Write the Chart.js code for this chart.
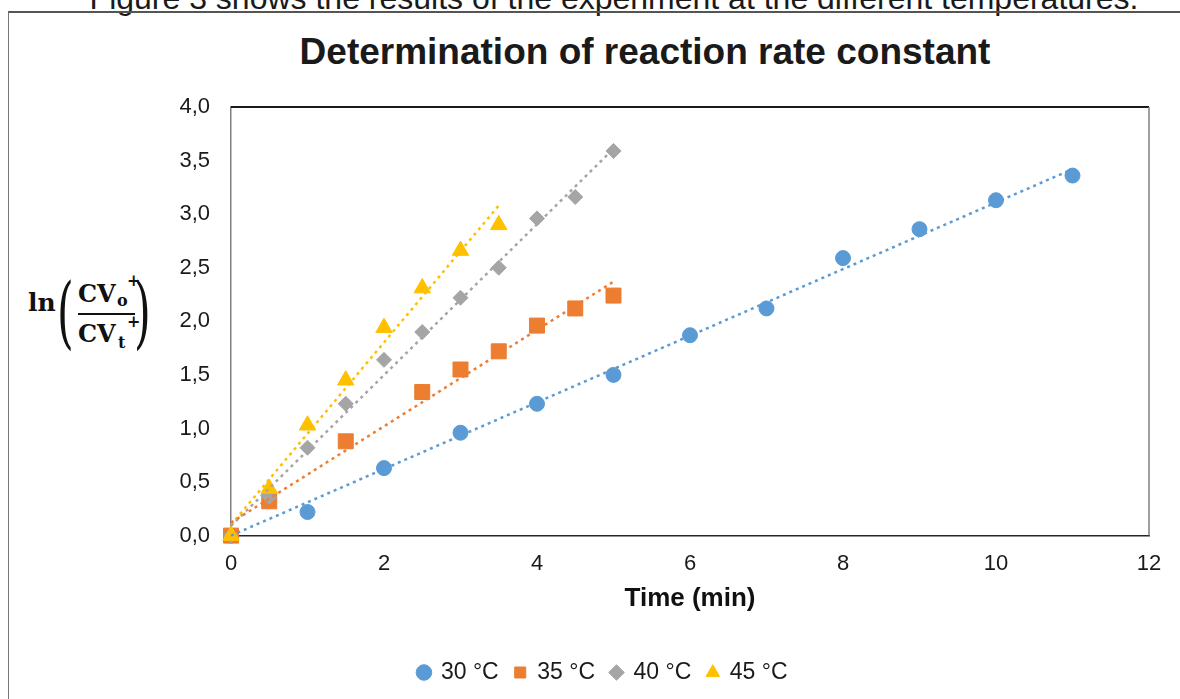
<!DOCTYPE html>
<html lang="en">
<head>
<meta charset="UTF-8">
<title>Determination of reaction rate constant</title>
<script src="https://cdn.jsdelivr.net/npm/chart.js"></script>
<style>
  html, body { margin: 0; padding: 0; background: #fff; width: 1180px; height: 699px; overflow: hidden; }
  body { position: relative; font-family: 'Liberation Sans', Arial, sans-serif; color: #1a1a1a; }
  #caption { position: absolute; left: 0; width: 1228px; top: -18px; text-align: center; font-size: 32px; line-height: 32px; white-space: nowrap; }
  #frame { position: absolute; left: 8px; top: 11px; width: 1300px; height: 800px; border-top: 2px solid #555; border-left: 1px solid #777; }
  #title { position: absolute; left: 0; width: 1290px; top: 33px; text-align: center; font-size: 37px; font-weight: bold; line-height: 37px; white-space: nowrap; }
  #chartBox { position: absolute; left: 8px; top: 0; width: 1190px; height: 699px; }
  .m { position: absolute; font-family: 'DejaVu Serif', serif; font-weight: bold; line-height: 1; white-space: nowrap; color: #111; }
  .paren { font-weight: normal; transform-origin: left top; }
  .bar { position: absolute; left: 78px; top: 313px; width: 57px; height: 2px; background: #111; }
</style>
</head>
<body>
  <div id="caption">Figure 3 shows the results of the experiment at the different temperatures.</div>
  <div id="frame"></div>
  <div id="title">Determination of reaction rate constant</div>

  <!-- y axis label: ln(CVo+ / CVt+) -->
  <div class="m" style="left:28px;top:290px;font-size:25px">ln</div>
  <div class="m paren" style="left:57px;top:273px;font-size:78px;transform:scaleX(0.55)">(</div>
  <div class="m" style="left:78px;top:282px;font-size:24px">CV</div>
  <div class="m" style="left:117px;top:293px;font-size:16px">o</div>
  <div class="m" style="left:127px;top:273px;font-size:16px">+</div>
  <div class="bar"></div>
  <div class="m" style="left:78px;top:322px;font-size:24px">CV</div>
  <div class="m" style="left:118px;top:335px;font-size:16px">t</div>
  <div class="m" style="left:127px;top:314px;font-size:16px">+</div>
  <div class="m paren" style="left:134px;top:273px;font-size:78px;transform:scaleX(0.55)">)</div>

  <div id="chartBox"><canvas id="rateChart" width="1190" height="699"></canvas></div>

<script>
// measured points, time in min
const time30 = [0, 1, 2, 3, 4, 5, 6, 7, 8, 9, 10, 11];
const ln30 = [0, 0.22, 0.63, 0.96, 1.23, 1.50, 1.87, 2.12, 2.59, 2.86, 3.13, 3.36];
const time35 = [0, 0.5, 1.5, 2.5, 3, 3.5, 4, 4.5, 5];
const ln35 = [0, 0.32, 0.88, 1.34, 1.55, 1.72, 1.96, 2.12, 2.24];
const time40 = [0, 0.5, 1, 1.5, 2, 2.5, 3, 3.5, 4, 4.5, 5];
const ln40 = [0, 0.36, 0.82, 1.23, 1.64, 1.90, 2.22, 2.50, 2.96, 3.16, 3.59];
const time45 = [0, 0.5, 1, 1.5, 2, 2.5, 3, 3.5];
const ln45 = [0, 0.44, 1.03, 1.45, 1.94, 2.31, 2.66, 2.90];

// end points of the linear trendlines
const trendTime30 = [0, 11];
const trendLn30 = [0.0, 3.42];
const trendTime35 = [0, 5];
const trendLn35 = [0.12, 2.37];
const trendTime40 = [0, 5];
const trendLn40 = [0.09, 3.61];
const trendTime45 = [0, 3.5];
const trendLn45 = [0.10, 3.08];

const seriesNames = ['30 °C', '35 °C', '40 °C', '45 °C'];
const seriesColors = ['#5B9BD5', '#ED7D31', '#A5A5A5', '#FFC000'];

function pts(xs, ys) {
    return xs.map((x, i) => ({ x: x, y: ys[i] }));
}

const markers = [
    { data: pts(time30, ln30), style: 'circle', r: 7.5 },
    { data: pts(time35, ln35), style: 'rect', r: 10.6 },
    { data: pts(time40, ln40), style: 'rectRot', r: 7.5 },
    { data: pts(time45, ln45), style: 'triangle', r: 9.5 }
];
const trends = [
    pts(trendTime30, trendLn30),
    pts(trendTime35, trendLn35),
    pts(trendTime40, trendLn40),
    pts(trendTime45, trendLn45)
];

const datasets = [];
markers.forEach((m, i) => {
    datasets.push({
        label: seriesNames[i],
        data: m.data,
        showLine: false,
        pointStyle: m.style,
        pointRadius: m.r,
        pointHoverRadius: m.r,
        backgroundColor: seriesColors[i],
        borderColor: seriesColors[i],
        pointBorderWidth: 1,
        clip: false,
        order: 4 - i + 1
    });
});
trends.forEach((t, i) => {
    datasets.push({
        label: 'trend ' + seriesNames[i],
        data: t,
        showLine: true,
        pointRadius: 0,
        borderColor: seriesColors[i],
        backgroundColor: seriesColors[i],
        borderWidth: 2.5,
        borderDash: [3, 4],
        clip: false,
        order: 0
    });
});

// top and right edges of the plot area
const plotFrame = {
    id: 'plotFrame',
    beforeDatasetsDraw(chart) {
        const { ctx, chartArea: a } = chart;
        ctx.save();
        ctx.lineWidth = 2;
        ctx.strokeStyle = '#1a1a1a';
        ctx.beginPath();
        ctx.moveTo(a.left, a.top);
        ctx.lineTo(a.right, a.top);
        ctx.stroke();
        ctx.lineWidth = 1.5;
        ctx.strokeStyle = '#7f7f7f';
        ctx.beginPath();
        ctx.moveTo(a.right, a.top);
        ctx.lineTo(a.right, a.bottom);
        ctx.stroke();
        ctx.restore();
    }
};

const font = "'Liberation Sans', Arial, sans-serif";
const ctx = document.getElementById('rateChart').getContext('2d');
new Chart(ctx, {
    type: 'scatter',
    data: { datasets: datasets },
    plugins: [plotFrame],
    options: {
        responsive: false,
        animation: false,
        devicePixelRatio: 1,
        layout: { padding: { left: 49, right: 49, top: 107, bottom: 5 } },
        scales: {
            x: {
                type: 'linear',
                min: 0,
                max: 12,
                grid: { display: false, drawTicks: false },
                border: { display: true, color: '#262626', width: 1.5 },
                ticks: {
                    stepSize: 2,
                    padding: 15,
                    color: '#1a1a1a',
                    font: { family: font, size: 22 }
                },
                title: {
                    display: true,
                    text: 'Time (min)',
                    color: '#111',
                    font: { family: font, size: 26, weight: 'bold' },
                    padding: { top: 0, bottom: 31 }
                },
                afterFit(scale) { scale.height = 109.4; }
            },
            y: {
                type: 'linear',
                min: 0,
                max: 4,
                grid: { display: false, drawTicks: false },
                border: { display: true, color: '#808080', width: 1.5 },
                ticks: {
                    stepSize: 0.5,
                    padding: 21,
                    color: '#1a1a1a',
                    font: { family: font, size: 22 },
                    callback: v => v.toFixed(1).replace('.', ',')
                },
                afterFit(scale) { scale.width = 174; }
            }
        },
        plugins: {
            title: { display: false },
            tooltip: { enabled: false },
            legend: {
                position: 'bottom',
                labels: {
                    usePointStyle: true,
                    boxWidth: 11,
                    boxHeight: 11,
                    padding: 16,
                    color: '#1a1a1a',
                    font: { family: font, size: 23 },
                    filter: item => item.datasetIndex < 4,
                    sort: (a, b) => a.datasetIndex - b.datasetIndex
                }
            }
        }
    }
});
</script>
</body>
</html>
